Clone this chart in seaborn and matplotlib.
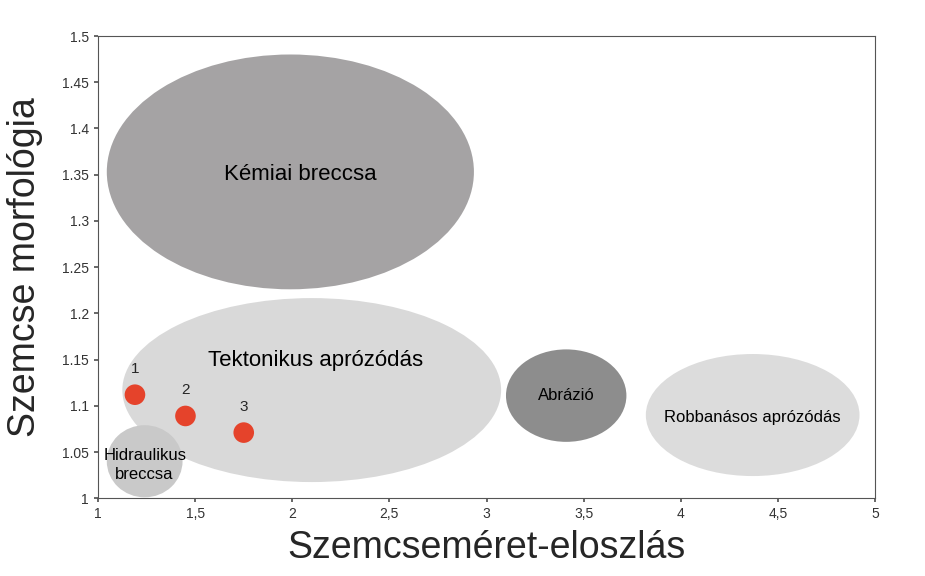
import matplotlib.pyplot as plt
from matplotlib.patches import Ellipse
import pandas as pd
import seaborn as sns

sns.set_theme(style="white")
plt.rcParams["font.family"] = ["Liberation Sans", "DejaVu Sans"]

zone_names = ["Kémiai breccsa", "Tektonikus aprózódás", "Abrázió",
              "Robbanásos aprózódás", "Hidraulikus\nbreccsa"]
zone_x = [1.99, 2.10, 3.41, 4.37, 1.24]
zone_y = [1.353, 1.117, 1.111, 1.090, 1.040]
zone_w = [1.89, 1.95, 0.62, 1.10, 0.39]
zone_h = [0.254, 0.199, 0.100, 0.132, 0.078]
zone_colors = ["#a5a3a4", "#d9d9d9", "#8d8d8d", "#dcdcdc", "#c9c9c9"]
zone_label_x = [2.04, 2.12, 3.41, 4.37, 1.24]
zone_label_y = [1.350, 1.149, 1.111, 1.087, 1.036]
zone_fontsize = [16, 16, 12, 12, 12]

sample_labels = ["1", "2", "3"]
sample_x = [1.19, 1.45, 1.75]
sample_y = [1.112, 1.089, 1.071]

x_ticks = [1, 1.5, 2, 2.5, 3, 3.5, 4, 4.5, 5]
x_tick_labels = ["1", "1,5", "2", "2,5", "3", "3,5", "4", "4,5", "5"]
y_ticks = [1, 1.05, 1.1, 1.15, 1.2, 1.25, 1.3, 1.35, 1.4, 1.45, 1.5]
y_tick_labels = ["1", "1.05", "1.1", "1.15", "1.2", "1.25", "1.3", "1.35", "1.4", "1.45", "1.5"]

fig = plt.figure(figsize=(9.25, 5.76), dpi=100)
ax = fig.add_axes([0.106, 0.135, 0.840, 0.8025])

for name, x, y, w, h, c, lx, ly, fs in zip(zone_names, zone_x, zone_y, zone_w, zone_h,
                                           zone_colors, zone_label_x, zone_label_y,
                                           zone_fontsize):
    ax.add_patch(Ellipse((x, y), w, h, facecolor=c, edgecolor="none", zorder=1))
    ax.text(lx, ly, name, ha="center", va="center", fontsize=fs, color="black",
            zorder=2, linespacing=1.3)

df = pd.DataFrame({"x": sample_x, "y": sample_y, "label": sample_labels})
sns.scatterplot(data=df, x="x", y="y", ax=ax, color="#e5432b", s=220,
                edgecolor="none", zorder=3, legend=False)
for _, row in df.iterrows():
    ax.text(row["x"], row["y"] + 0.02, row["label"], ha="center", va="bottom",
            fontsize=11, zorder=4)

ax.set_xlim(1, 5)
ax.set_ylim(1, 1.5)
ax.set_xticks(x_ticks, x_tick_labels, fontsize=10, color="#333333")
ax.set_yticks(y_ticks, y_tick_labels, fontsize=10, color="#333333")
ax.tick_params(axis="both", length=3, direction="out", color="#555555",
               bottom=True, left=True)
for s in ax.spines.values():
    s.set_color("#555555")
    s.set_linewidth(0.8)
ax.set_xlabel("Szemcseméret-eloszlás", fontsize=27, labelpad=6)
ax.set_ylabel("Szemcse morfológia", fontsize=27, labelpad=14)

fig.savefig("out.png", dpi=100)
